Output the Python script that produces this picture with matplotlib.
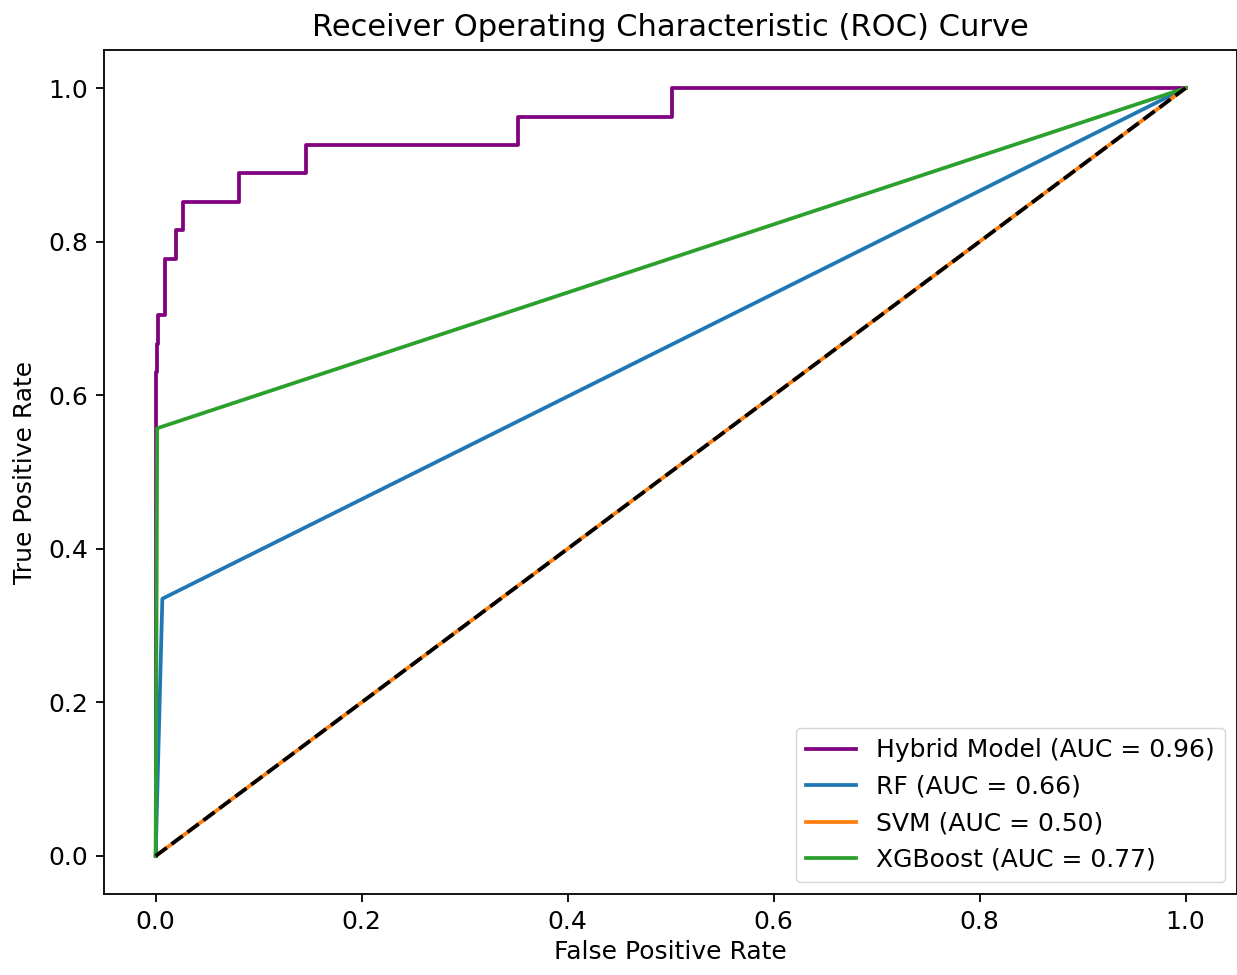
import matplotlib
matplotlib.use("Agg")
import matplotlib.pyplot as plt

# ROC points
hybrid_fpr = [0.0, 0.0, 0.0015, 0.0015, 0.0023, 0.0023, 0.0087, 0.0087, 0.0194, 0.0194,
              0.027, 0.027, 0.0805, 0.0805, 0.146, 0.146, 0.352, 0.352, 0.501, 0.501, 1.0]
hybrid_tpr = [0.0, 0.630, 0.630, 0.667, 0.667, 0.704, 0.704, 0.778, 0.778, 0.815,
              0.815, 0.852, 0.852, 0.889, 0.889, 0.926, 0.926, 0.963, 0.963, 1.0, 1.0]
rf_fpr = [0.0, 0.0065, 1.0]
rf_tpr = [0.0, 0.335, 1.0]
svm_fpr = [0.0, 1.0]
svm_tpr = [0.0, 1.0]
xgb_fpr = [0.0, 0.0015, 1.0]
xgb_tpr = [0.0, 0.557, 1.0]

labels = ["Hybrid Model (AUC = 0.96)", "RF (AUC = 0.66)", "SVM (AUC = 0.50)", "XGBoost (AUC = 0.77)"]

plt.rcParams['font.size'] = 18
plt.rcParams['axes.linewidth'] = 1.3
for a in ('xtick', 'ytick'):
    plt.rcParams[a + '.major.size'] = 6
    plt.rcParams[a + '.major.width'] = 1.3
    plt.rcParams[a + '.major.pad'] = 5.5

fig = plt.figure(figsize=(12.37, 9.75), dpi=100)
ax = fig.add_axes([0.0842, 0.0827, 0.9158, 0.8663])

ax.plot(hybrid_fpr, hybrid_tpr, color='purple', lw=2.7, label=labels[0])
ax.plot(rf_fpr, rf_tpr, color='tab:blue', lw=2.7, label=labels[1])
ax.plot(svm_fpr, svm_tpr, color='tab:orange', lw=2.7, label=labels[2])
ax.plot(xgb_fpr, xgb_tpr, color='tab:green', lw=2.7, label=labels[3])
ax.plot([0, 1], [0, 1], 'k--', lw=2.7)

ax.set_title("Receiver Operating Characteristic (ROC) Curve", fontsize=22, pad=10)
ax.set_xlabel("False Positive Rate", labelpad=4)
ax.set_ylabel("True Positive Rate", labelpad=8)
ax.legend(loc='lower right')

fig.savefig("out.png")
